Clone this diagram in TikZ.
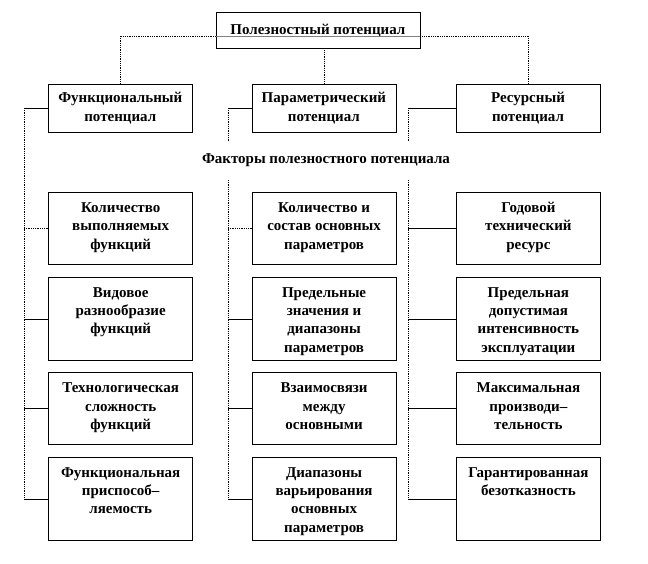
\documentclass[tikz,border=0pt]{standalone}
\usepackage{fontspec}
\setmainfont{Liberation Serif}

\begin{document}
\begin{tikzpicture}[x=1pt,y=-1pt,
  box/.style={draw,line width=0.8pt,inner sep=0pt,font=\bfseries\fontsize{15}{18.3}\selectfont},
  head/.style={box,minimum width=144,minimum height=48,align=center},
  fac/.style={box,anchor=north west,
    execute at begin node={\begin{minipage}[t][#1][t]{144pt}\centering\rule{0pt}{20pt}},
    execute at end node={\end{minipage}}},
  link/.style={line width=0.8pt,densely dotted},
  tie/.style={line width=0.8pt}]
        \useasboundingbox (0,0) rectangle (648,564) ;
        % top level
        \node[box,minimum width=204,minimum height=35.3] (top) at (317.9,30.4) {Полезностный потенциал} ;
        \node[head] (func) at (120.3,108) {Функциональный\\потенциал} ;
        \node[head] (param) at (323.9,108) {Параметрический\\потенциал} ;
        \node[head] (res) at (528,108) {Ресурсный\\потенциал} ;
        % factors
        \node[fac=71.7pt] (l1) at (48.3,192.3) {Количество\\выполняемых\\функций} ;
        \node[fac=83.6pt] (l2) at (48.3,276.7) {Видовое\\разнообразие\\функций} ;
        \node[fac=71.7pt] (l3) at (48.3,372.3) {Технологическая\\сложность\\функций} ;
        \node[fac=83.6pt] (l4) at (48.3,456.7) {Функциональная\\приспособ–\\ляемость} ;
        \node[fac=71.7pt] (m1) at (251.7,192.3) {Количество и\\состав основных\\параметров} ;
        \node[fac=83.6pt] (m2) at (251.7,276.7) {Предельные\\значения и\\диапазоны\\параметров} ;
        \node[fac=71.7pt] (m3) at (251.7,372.3) {Взаимосвязи\\между\\основными} ;
        \node[fac=83.6pt] (m4) at (251.7,456.7) {Диапазоны\\варьирования\\основных\\параметров} ;
        \node[fac=71.7pt] (r1) at (456,192.3) {Годовой\\технический\\ресурс} ;
        \node[fac=83.6pt] (r2) at (456,276.7) {Предельная\\допустимая\\интенсивность\\эксплуатации} ;
        \node[fac=71.7pt] (r3) at (456,372.3) {Максимальная\\производи–\\тельность} ;
        \node[fac=83.6pt] (r4) at (456,456.7) {Гарантированная\\безотказность} ;
        % links to the top box
        \draw[link] (func.north) |- ([yshift=-5.6pt]top.west) ;
        \draw[tie,gray] ([yshift=-5.6pt]top.west) -- ([yshift=-5.6pt]top.east) ;
        \draw[link] ([yshift=-5.6pt]top.east) -| (res.north) ;
        \draw[link] (top.south -| param.north) -- (param.north) ;
        % buses
        \coordinate (lb) at (24,108) ;
        \coordinate (mb) at (228,108) ;
        \coordinate (rb) at (408,108) ;
        \draw[tie] (func.west) -- (lb) ;
        \draw[tie] (param.west) -- (mb) ;
        \draw[tie] (res.west) -- (rb) ;
        \foreach \b/\c in {lb/l,mb/m,rb/r}{
          \draw[link] (\b) -- (\b |- \c4.west) ;
          \foreach \i in {2,3,4} \draw[tie] (\b |- \c\i.west) -- (\c\i.west) ;
        }
        \draw[link] (lb |- l1.west) -- (l1.west) ;
        \draw[link] (mb |- m1.west) -- (m1.west) ;
        \draw[tie] (rb |- r1.west) -- (r1.west) ;
        \node[font=\bfseries\fontsize{15}{18.3}\selectfont,fill=white,inner ysep=12pt] (fact) at (326,160) {Факторы полезностного потенциала} ;
\end{tikzpicture}
\end{document}
